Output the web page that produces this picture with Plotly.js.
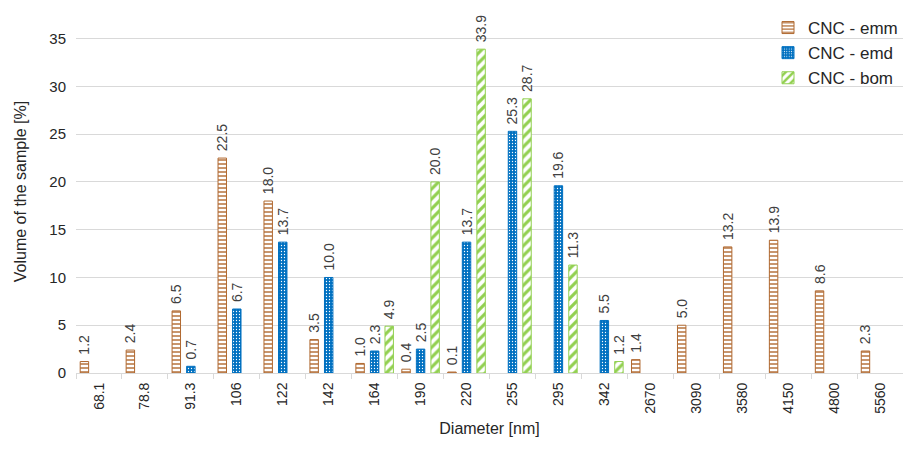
<!DOCTYPE html>
<html>
<head>
<meta charset="utf-8">
<script src="https://cdn.plot.ly/plotly-3.0.1.min.js"></script>
<style>
  html, body { margin: 0; padding: 0; background: #fff; }
  #chart { width: 903px; height: 449px; }
</style>
</head>
<body>
<div id="chart"></div>
<script>
// Particle size classes (nm)
const diameters = ['68.1', '78.8', '91.3', '106', '122', '142', '164', '190', '220',
                   '255', '295', '342', '2670', '3090', '3580', '4150', '4800', '5560'];

// Volume share of each size class [%]; null = no bar
const emm = [1.2, 2.4, 6.5, 22.5, 18.0, 3.5, 1.0, 0.4, 0.1,
             null, null, null, 1.4, 5.0, 13.2, 13.9, 8.6, 2.3];
const emd = [null, null, 0.7, 6.7, 13.7, 10.0, 2.3, 2.5, 13.7,
             25.3, 19.6, 5.5, null, null, null, null, null, null];
const bom = [null, null, null, null, null, null, 4.9, 20.0, 33.9,
             28.7, 11.3, 1.2, null, null, null, null, null, null];

const seriesNames = ['CNC - emm', 'CNC - emd', 'CNC - bom'];

const BROWN = '#b0682f';
const BLUE = '#0070c0';
const GREEN = '#92d050';

const labelFont = { family: 'Liberation Sans, Arial, sans-serif', size: 14, color: '#404040' };

function barTrace(name, values, lineColor, pattern) {
  return {
    type: 'bar',
    name: name,
    x: diameters,
    y: values,
    // leading no-break space keeps the rotated value clear of the bar top
    texttemplate: '\u00a0%{y:.1f}',
    textposition: 'outside',
    textangle: -90,
    textfont: labelFont,
    constraintext: 'none',
    cliponaxis: false,
    marker: {
      color: pattern.bgcolor,
      line: { color: lineColor, width: 1 },
      pattern: pattern
    },
    hoverinfo: 'x+y+name'
  };
}

const traces = [
  barTrace(seriesNames[0], emm, BROWN,
    { shape: '-', fgcolor: BROWN, bgcolor: '#ffffff', size: 4, solidity: 0.35 }),
  barTrace(seriesNames[1], emd, BLUE,
    { shape: '.', fgcolor: '#ffffff', bgcolor: BLUE, size: 3, solidity: 0.15 }),
  barTrace(seriesNames[2], bom, GREEN,
    { shape: '/', fgcolor: GREEN, bgcolor: '#ffffff', size: 7, solidity: 0.45 })
];

const layout = {
  width: 903,
  height: 449,
  margin: { l: 76, r: 0, t: 10, b: 76 },
  paper_bgcolor: '#ffffff',
  plot_bgcolor: '#ffffff',
  font: { family: 'Liberation Sans, Arial, sans-serif', color: '#262626' },
  barmode: 'group',
  bargap: 0.05,
  bargroupgap: 0.42,
  showlegend: true,
  legend: {
    x: 1, xanchor: 'right',
    y: 1.0, yanchor: 'top',
    bgcolor: 'rgba(0,0,0,0)',
    font: { size: 17, color: '#262626' },
    itemwidth: 30,
    traceorder: 'normal'
  },
  xaxis: {
    type: 'category',
    tickangle: -90,
    tickfont: { size: 14, color: '#262626' },
    showgrid: false,
    showline: true,
    linecolor: '#d9d9d9',
    linewidth: 1,
    ticks: 'outside',
    tickson: 'boundaries',
    ticklen: 5,
    tickcolor: '#d9d9d9',
    ticklabelstandoff: 3,
    title: { text: 'Diameter [nm]', font: { size: 16, color: '#262626' }, standoff: 10 },
    fixedrange: true
  },
  yaxis: {
    range: [0, 38],
    dtick: 5,
    tick0: 0,
    tickfont: { size: 15, color: '#262626' },
    showgrid: true,
    gridcolor: '#d9d9d9',
    gridwidth: 1,
    zeroline: false,
    showline: false,
    ticks: '',
    ticklabelstandoff: 9,
    title: { text: 'Volume of the sample [%]', font: { size: 16, color: '#262626' }, standoff: 18 },
    fixedrange: true
  }
};

Plotly.newPlot('chart', traces, layout, { displayModeBar: false, staticPlot: true });
</script>
</body>
</html>
